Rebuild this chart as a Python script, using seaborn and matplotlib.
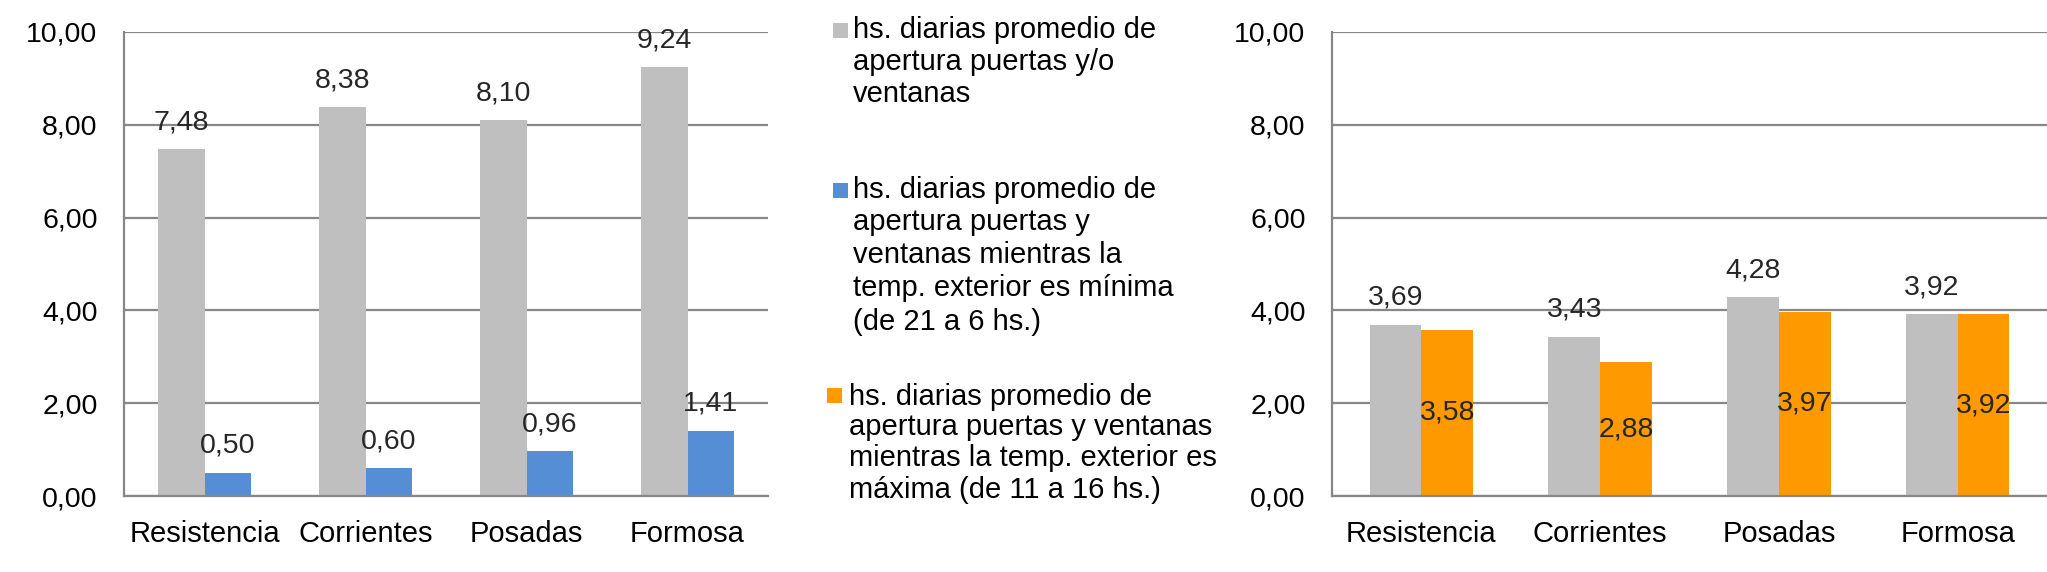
import matplotlib
matplotlib.use("Agg")
import matplotlib.pyplot as plt
from matplotlib.patches import Rectangle
from matplotlib.ticker import FuncFormatter
import seaborn as sns
import pandas as pd

# ---- data ----
ciudades = ["Resistencia", "Corrientes", "Posadas", "Formosa"]
apertura_total = [7.48, 8.38, 8.10, 9.24]
apertura_min = [0.50, 0.60, 0.96, 1.41]
apertura_total_der = [3.69, 3.43, 4.28, 3.92]
apertura_max = [3.58, 2.88, 3.97, 3.92]
y_ticks = [0, 2, 4, 6, 8, 10]

serie_total = "hs. diarias promedio de apertura puertas y/o ventanas"
serie_min = "hs. diarias promedio de apertura puertas y ventanas mientras la temp. exterior es mínima (de 21 a 6 hs.)"
serie_max = "hs. diarias promedio de apertura puertas y ventanas mientras la temp. exterior es máxima (de 11 a 16 hs.)"

legend_lines = [
    ["hs. diarias promedio de", "apertura puertas y/o", "ventanas"],
    ["hs. diarias promedio de", "apertura puertas y", "ventanas mientras la",
     "temp. exterior es mínima", "(de 21 a 6 hs.)"],
    ["hs. diarias promedio de", "apertura puertas y ventanas",
     "mientras la temp. exterior es", "máxima (de 11 a 16 hs.)"],
]

GRAY = "#BFBFBF"
BLUE = "#558ED5"
ORANGE = "#FF9900"
AXC = "#878787"

sns.set_theme(style="white")
plt.rcParams["font.family"] = ["Liberation Sans", "DejaVu Sans"]

W, H = 2047, 572
fig = plt.figure(figsize=(W / 100, H / 100), dpi=100)

ax1 = fig.add_axes([124 / W, 1 - 496 / H, 644 / W, 464 / H])
ax2 = fig.add_axes([1332 / W, 1 - 496 / H, 715 / W, 464 / H])

df1 = pd.DataFrame({
    "ciudad": ciudades * 2,
    "valor": apertura_total + apertura_min,
    "serie": [serie_total] * 4 + [serie_min] * 4,
})
df2 = pd.DataFrame({
    "ciudad": ciudades * 2,
    "valor": apertura_total_der + apertura_max,
    "serie": [serie_total] * 4 + [serie_max] * 4,
})

sns.barplot(data=df1, x="ciudad", y="valor", hue="serie", palette=[GRAY, BLUE],
            width=0.58, gap=0, saturation=1, linewidth=0, legend=False, ax=ax1)
sns.barplot(data=df2, x="ciudad", y="valor", hue="serie", palette=[GRAY, ORANGE],
            width=0.58, gap=0, saturation=1, linewidth=0, legend=False, ax=ax2)

fmt = lambda v: f"{v:.2f}".replace(".", ",")

for ax in (ax1, ax2):
    ax.set_ylim(0, 10)
    ax.set_xlim(-0.5, 3.5)
    ax.set_yticks(y_ticks)
    ax.yaxis.set_major_formatter(FuncFormatter(lambda v, p: fmt(v)))
    ax.set_xlabel("")
    ax.set_ylabel("")
    ax.set_axisbelow(True)
    ax.yaxis.grid(True, color=AXC, linewidth=1.6)
    ax.xaxis.grid(False)
    for s in ("top", "right"):
        ax.spines[s].set_visible(False)
    for s in ("left", "bottom"):
        ax.spines[s].set_color(AXC)
        ax.spines[s].set_linewidth(1.6)
    ax.tick_params(axis="y", length=0, pad=19, labelsize=20.5, labelcolor="black")
    ax.tick_params(axis="x", length=0, pad=17, labelsize=21, labelcolor="black")
    ax.patch.set_alpha(0)

ax1.bar_label(ax1.containers[0], labels=[fmt(v) for v in apertura_total], padding=10, fontsize=20.5)
ax1.bar_label(ax1.containers[1], labels=[fmt(v) for v in apertura_min], padding=10, fontsize=20.5)
ax2.bar_label(ax2.containers[0], labels=[fmt(v) for v in apertura_total_der], padding=10, fontsize=20.5)
ax2.bar_label(ax2.containers[1], labels=[fmt(v) for v in apertura_max], label_type="center", fontsize=20.5)

# ---- legend (middle column) ----
leg_colors = [GRAY, BLUE, ORANGE]
marker_boxes = [(833, 23), (833, 183), (827, 388)]
text_x = [853, 853, 849]
line_y = [
    [30, 62, 94],
    [190, 222, 255, 288, 322],
    [397, 427, 458, 490],
]
for col, (mx, my), tx, lines, ys in zip(leg_colors, marker_boxes, text_x, legend_lines, line_y):
    fig.add_artist(Rectangle((mx / W, 1 - (my + 15) / H), 15 / W, 15 / H,
                             transform=fig.transFigure, facecolor=col, edgecolor="none"))
    for t, y in zip(lines, ys):
        fig.text(tx / W, 1 - y / H, t, fontsize=21, ha="left", va="center", color="black")

fig.savefig("out.png", dpi=100)
